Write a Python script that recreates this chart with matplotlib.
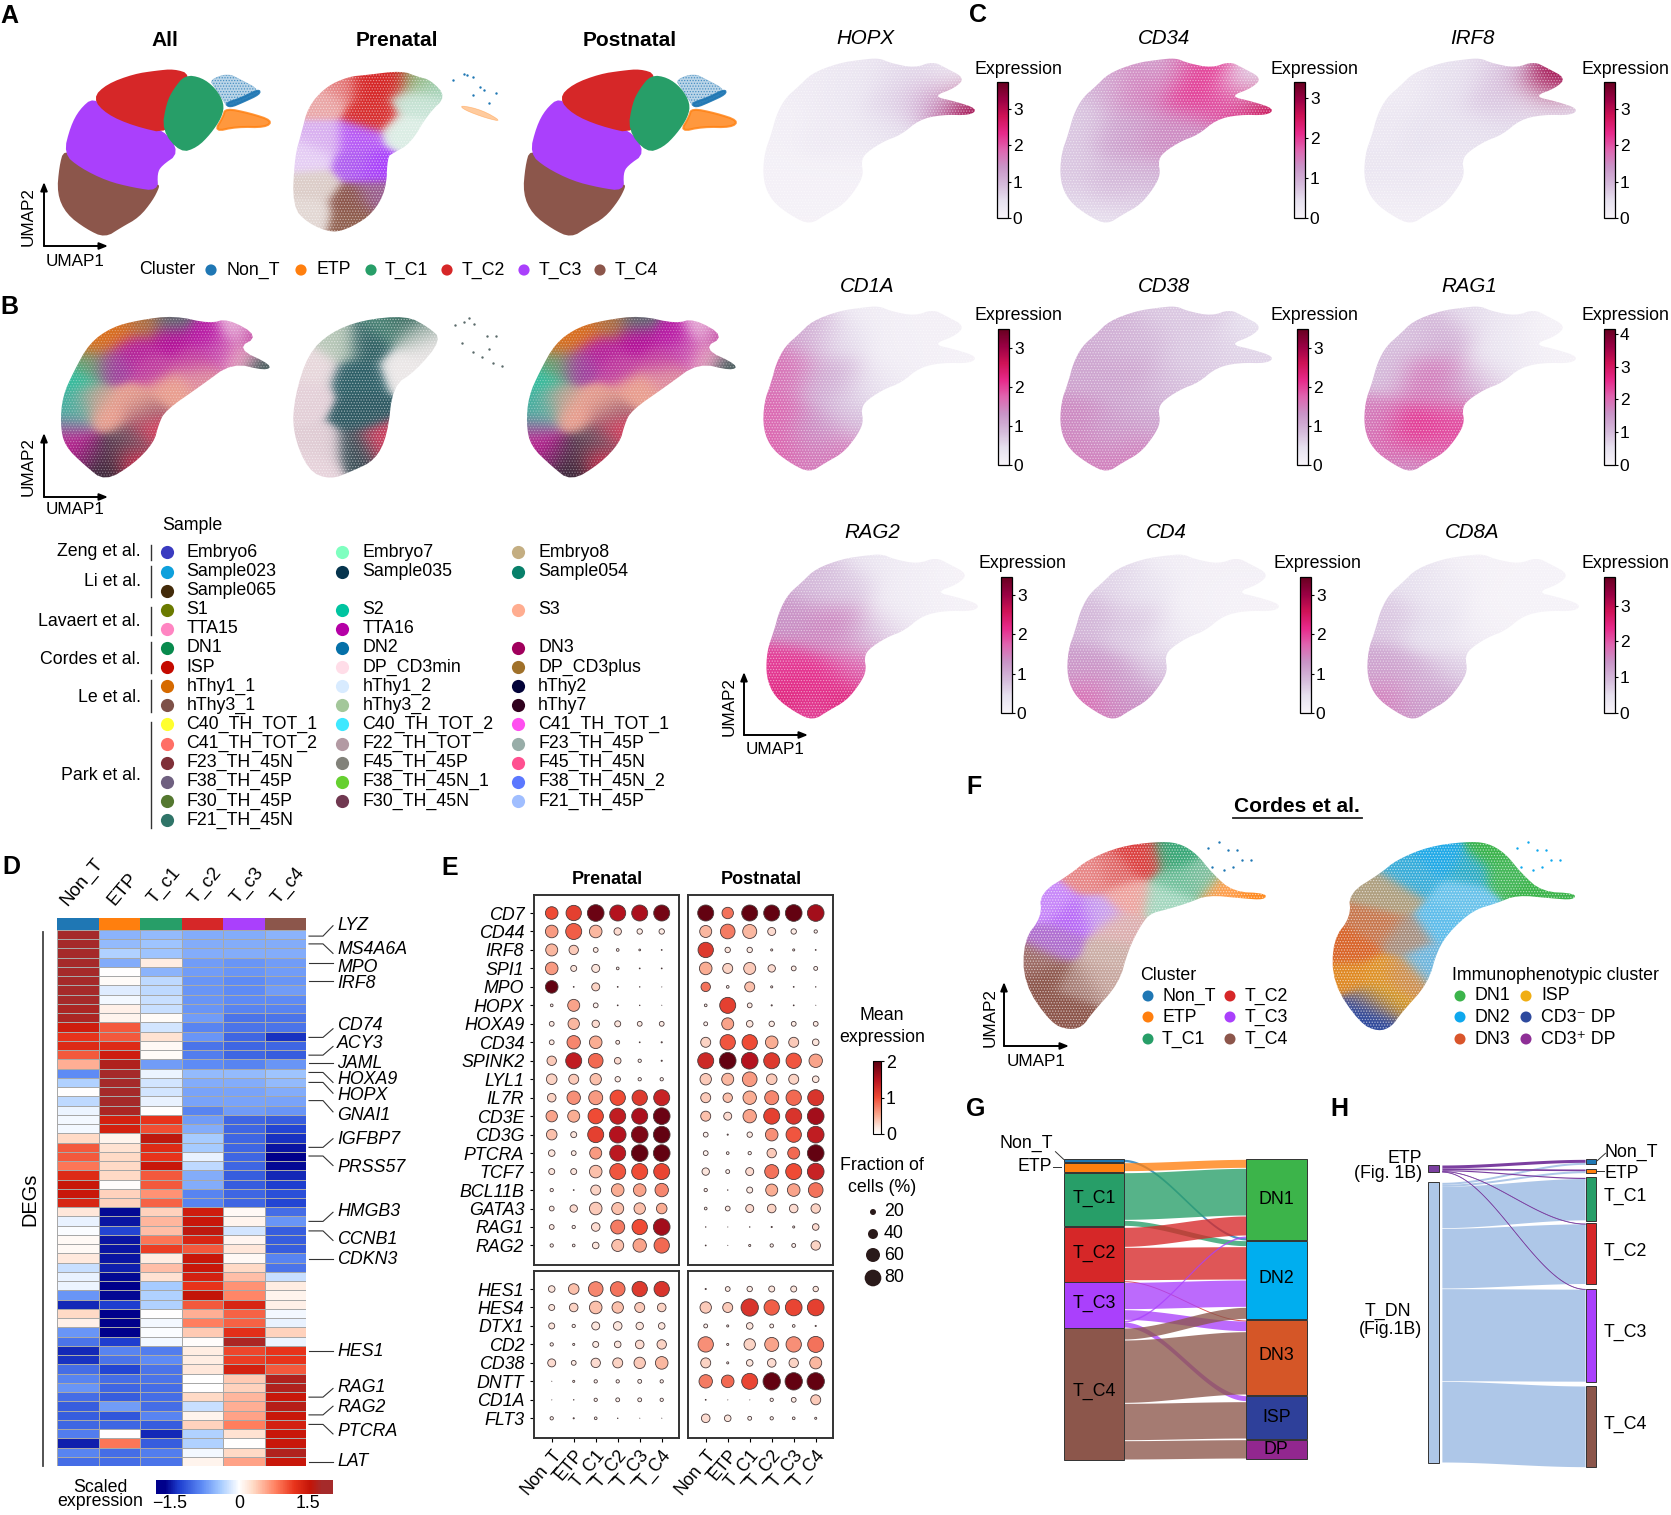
import numpy as np
from matplotlib import pyplot as plt
from matplotlib import cm
from matplotlib.colors import LinearSegmentedColormap, Normalize, to_rgb
from matplotlib.patches import Polygon

plt.rcParams['font.family'] = ['Liberation Sans', 'DejaVu Sans']
plt.rcParams['hatch.linewidth'] = .6

W, H = 1671, 1515

# clusters
clusters = ['Non_T', 'ETP', 'T_C1', 'T_C2', 'T_C3', 'T_C4']
cluster_colors = ['#1F77B4', '#FF7F0E', '#279E68', '#D62728', '#AA40FC', '#8C564B']

# umap outlines
shape_all = [(390, 210), (415, 225), (470, 240), (510, 220), (540, 240), (582, 270), (560, 300), (510, 325), (560, 340),
             (610, 362), (595, 382), (530, 380), (480, 395), (440, 440), (400, 460), (360, 495), (350, 520), (355, 560),
             (340, 600), (310, 650), (270, 680), (235, 710), (195, 685), (150, 640), (130, 580), (132, 500), (148, 440),
             (160, 380), (180, 330), (210, 295), (240, 255), (300, 225), (350, 215)]
all_c4 = [(135, 500), (145, 450), (180, 490), (240, 530), (300, 550), (352, 555), (355, 560), (340, 600), (310, 650),
          (270, 680), (235, 710), (195, 685), (150, 640), (130, 580)]
all_c3 = [(210, 295), (240, 340), (300, 375), (365, 390), (400, 458), (360, 495), (350, 520), (352, 570), (300, 560),
          (240, 540), (180, 500), (145, 460), (160, 380), (180, 330)]
all_c2 = [(210, 295), (240, 255), (300, 225), (350, 215), (390, 210), (425, 225), (400, 290), (380, 400), (300, 375),
          (240, 340)]
all_c1 = [(415, 228), (450, 235), (480, 265), (500, 310), (495, 350), (470, 400), (440, 440), (405, 455), (365, 390),
          (375, 310), (390, 270)]
all_nont = [(470, 240), (510, 220), (540, 240), (582, 270), (560, 298), (510, 325), (500, 300), (480, 260)]
all_nont_core = [(505, 310), (540, 295), (580, 268), (582, 282), (545, 305), (515, 322)]
all_etp = [(505, 325), (560, 340), (610, 362), (595, 382), (530, 380), (480, 395), (500, 350)]

pre_shape = [(690, 320), (730, 260), (780, 230), (820, 225), (900, 212), (935, 230), (965, 240), (1000, 290), (960, 340),
             (920, 430), (880, 460), (868, 470), (865, 570), (835, 640), (790, 680), (745, 700), (690, 670), (655, 620),
             (660, 470), (675, 400)]
pre_x = [720, 760, 820, 880, 830, 720, 690, 800, 840, 800, 700, 690, 790, 790, 840, 930, 950, 910, 930]
pre_y = [300, 260, 260, 240, 340, 420, 470, 420, 500, 490, 560, 640, 610, 660, 590, 300, 250, 400, 240]
pre_colors = ['#EBA9A9', '#E58080', '#D62728', '#D62728', '#D83030', '#D9B0F0', '#E6CFF5', '#B85CF6', '#AA40FC', '#B060F0',
              '#DCCDC8', '#E3D8D4', '#8C564B', '#90604F', '#9A6090', '#C8E4D6', '#A5D5BE', '#DCEEE5', '#8AA860']
pre_etp_thin = [(1030, 315), (1080, 330), (1125, 365), (1090, 355), (1040, 330)]
pre_nont_x = [1045, 1060, 1015, 1085, 1110, 1095, 1060, 1040, 1075]
pre_nont_y = [225, 232, 240, 270, 280, 310, 285, 222, 262]

# panel b, sample colours as seen at places of the umap
sample_shape = [(390, 72), (470, 95), (510, 80), (580, 130), (530, 165), (610, 212), (595, 228), (520, 205), (450, 270),
                (370, 340), (355, 380), (345, 430), (300, 490), (235, 540), (190, 495), (145, 440), (135, 380), (140, 300),
                (165, 230), (200, 150), (250, 105), (310, 85)]
sample_x = [210, 260, 320, 380, 165, 150, 200, 300, 380, 460, 250, 340, 430, 490, 530, 570, 540, 590, 240, 300, 380, 440,
            200, 150, 165, 150, 185, 235, 210, 260, 300, 335, 320, 290]
sample_y = [150, 115, 95, 85, 260, 320, 210, 170, 140, 130, 210, 220, 200, 170, 110, 130, 190, 215, 350, 320, 280, 240,
            310, 380, 330, 420, 460, 500, 470, 460, 420, 400, 350, 480]
sample_rgb = ['#D9701E', '#D9701E', '#B07040', '#5F6A70', '#2FBFA0', '#30B0A0', '#6AA070', '#B5209B', '#B5109B', '#B81AA5',
              '#A040A0', '#C040A0', '#C03AA0', '#C84FB0', '#E8B0D8', '#C040A0', '#E8A0C0', '#4A6060', '#EBA090', '#E8A090',
              '#EAA090', '#E090A0', '#C0A090', '#7090A0', '#60B0A0', '#C02090', '#B02090', '#3A2A3A', '#503048', '#504050',
              '#6A5060', '#E04060', '#A06070', '#D03050']
sample_pre_shape = [(690, 180), (740, 120), (810, 85), (910, 72), (960, 105), (990, 140), (930, 230), (880, 270), (868, 410),
                    (840, 480), (790, 510), (740, 535), (690, 510), (655, 400), (660, 300)]
sample_pre_cx = [680, 700, 720, 700, 760, 820, 800, 810, 800, 900, 860, 850, 930, 950, 910]
sample_pre_cy = [300, 220, 450, 500, 150, 150, 250, 350, 450, 90, 100, 430, 130, 170, 220]
sample_pre_rgb = ['#E4D0D8', '#E8D8DC', '#E0CCD4', '#E8D4DC', '#B8C8B8', '#2F5F63', '#2F6068', '#2F5A63', '#3A5058',
                  '#3A6A60', '#50887A', '#D04060', '#A8B8B0', '#E8E4E4', '#ECE8E8']
sample_pre_x = [1050, 1040, 1062, 1090, 1110, 1095, 1060, 1080, 1105, 1125, 1020, 1035]
sample_pre_y = [80, 90, 95, 130, 130, 165, 175, 190, 205, 215, 100, 150]

# feature plots, mean expression read at these places of the umap
anchors_x = [590, 510, 550, 440, 440, 420, 370, 300, 230, 280, 165, 370, 340, 240, 140, 235, 165, 300]
anchors_y = [365, 350, 280, 240, 340, 430, 225, 300, 290, 430, 400, 460, 560, 600, 560, 700, 650, 660]
genes_c = ['HOPX', 'CD34', 'IRF8', 'CD1A', 'CD38', 'RAG1', 'RAG2', 'CD4', 'CD8A']
gene_max = [3.75, 3.4, 3.75, 3.5, 3.5, 4.15, 3.45, 3.45, 3.8]
gene_ticks = [[0, 1, 2, 3], [0, 1, 2, 3], [0, 1, 2, 3], [0, 1, 2, 3], [0, 1, 2, 3], [0, 1, 2, 3, 4], [0, 1, 2, 3], [0, 1, 2, 3], [0, 1, 2, 3]]
hopx = [3.2, 1.3, .3, .6, .6, .5, .3, .35, .2, .25, .12, .25, .1, .1, .1, .05, .08, .08]
cd34 = [2.6, 1.8, .5, 2.1, 2.0, 1.2, 1.0, 1.5, .9, 1.1, .7, 1.4, .9, .9, .7, .3, .5, .6]
irf8 = [.6, .5, 3.2, .9, .8, .5, .4, .5, .2, .45, .3, .4, .3, .35, .35, .1, .15, .2]
cd1a = [.05, .1, .1, .1, .15, .15, .2, .4, 1.1, 1.0, 1.6, .5, .8, 1.3, 1.7, 1.5, 1.8, 1.6]
cd38 = [.6, .6, .4, .7, .7, .7, .7, .9, 1.0, 1.1, 1.1, .9, 1.1, 1.2, 1.4, 1.5, 1.5, 1.5]
rag1 = [.05, .15, .05, .3, .4, .4, .6, 1.2, .9, 1.8, 1.0, 1.4, 2.3, 2.5, 1.8, 1.5, 1.9, 2.1]
rag2 = [.05, .1, .05, .15, .2, .2, .3, .7, .9, 1.4, 1.3, .9, 1.7, 2.1, 2.0, 1.9, 2.3, 2.3]
cd4 = [.05, .05, .1, .1, .1, .1, .15, .35, .6, .7, .9, .3, .7, 1.2, 1.2, 1.4, 1.7, 1.3]
cd8a = [.03, .03, .05, .05, .05, .05, .1, .25, .5, .5, .8, .2, .7, 1.1, 1.2, 1.3, 1.7, 1.3]
gene_values = [hopx, cd34, irf8, cd1a, cd38, rag1, rag2, cd4, cd8a]

# sample legend
sample_names = [['Embryo6', 'Embryo7', 'Embryo8'], ['Sample023', 'Sample035', 'Sample054'], ['Sample065', None, None],
                ['S1', 'S2', 'S3'], ['TTA15', 'TTA16', None], ['DN1', 'DN2', 'DN3'],
                ['ISP', 'DP_CD3min', 'DP_CD3plus'], ['hThy1_1', 'hThy1_2', 'hThy2'], ['hThy3_1', 'hThy3_2', 'hThy7'],
                ['C40_TH_TOT_1', 'C40_TH_TOT_2', 'C41_TH_TOT_1'], ['C41_TH_TOT_2', 'F22_TH_TOT', 'F23_TH_45P'],
                ['F23_TH_45N', 'F45_TH_45P', 'F45_TH_45N'], ['F38_TH_45P', 'F38_TH_45N_1', 'F38_TH_45N_2'],
                ['F30_TH_45P', 'F30_TH_45N', 'F21_TH_45P'], ['F21_TH_45N', None, None]]
sample_colors = [['#3A3BC0', '#7FFFC0', '#C4AE82'], ['#0FA0DC', '#06344D', '#08806A'], ['#432B0A', None, None],
                 ['#6B7A00', '#00C4A0', '#FFAD90'], ['#FF85C2', '#B500A6', None], ['#088A4D', '#0570A8', '#A0005C'],
                 ['#C40A00', '#FFDDE8', '#A0712A'], ['#D66A00', '#D8EBFF', '#020238'], ['#7E5148', '#A3C79A', '#30021E'],
                 ['#FFFF2E', '#3FE8FF', '#FF4FF0'], ['#FF6F66', '#B39AA3', '#98ADA8'], ['#7F3038', '#82827A', '#FF5090'],
                 ['#6F6080', '#66D030', '#5B78FF'], ['#547830', '#703850', '#A0BEFF'], ['#2F7468', None, None]]
studies = ['Zeng et al.', 'Li et al.', 'Lavaert et al.', 'Cordes et al.', 'Le et al.', 'Park et al.']

# heatmap D, 58 genes x 6 clusters
heat_cols = ['Non_T', 'ETP', 'T_c1', 'T_c2', 'T_c3', 'T_c4']
heat = np.array([
    [1.8, -.55, -.5, -.6, -.6, -.55], [1.8, -.5, -.45, -.6, -.6, -.6], [1.8, -.35, -.45, -.6, -.6, -.6],
    [1.8, -.6, .15, -.7, -.75, -.7], [1.8, 0, -.55, -.7, -.75, -.7], [1.8, .03, -.3, -.75, -.8, -.75],
    [1.8, -.15, -.3, -.75, -.8, -.7], [1.8, -.05, -.25, -.75, -.8, -.8], [1.75, .12, -.25, -.75, -.85, -.85],
    [1.75, .1, .03, -.7, -.95, -.95], [1.45, 1.0, -.2, -.85, -.95, -.95], [1.2, 1.0, .25, -.75, -1.05, -1.35],
    [1.3, 1.3, .05, -.95, -1.05, -1.05], [1.0, 1.45, .03, -.9, -1.05, -1.1], [.55, 1.7, -.7, -.8, -.85, -.75],
    [-.8, 1.8, -.08, -.5, -.5, -.45], [-.35, 1.8, -.2, -.6, -.6, -.5], [0, 1.8, -.2, -.65, -.65, -.6],
    [-.3, 1.8, -.1, -.65, -.65, -.65], [-.08, 1.75, 0, -.85, -.7, -.75], [-.05, 1.4, 1.2, -.7, -1.05, -1.1],
    [-.05, 1.4, 1.05, -.6, -1.05, -1.25], [.3, .1, 1.6, -.4, -1.05, -1.35], [1.0, .25, 1.3, -.4, -1.05, -1.5],
    [1.0, .3, 1.2, -.1, -1.05, -1.6], [.85, .3, 1.5, -.3, -1.05, -1.55], [1.3, .3, 1.0, -.6, -1.1, -1.4],
    [1.5, .02, 1.0, -.6, -1.1, -1.3], [1.5, .35, .7, -.85, -1.05, -1.2], [1.35, .35, .95, -.85, -1.05, -1.25],
    [.2, -1.55, .35, 1.45, .05, -1.0], [-.1, -1.5, .5, 1.5, .1, -.75], [-.03, -1.25, .45, 1.6, -.2, -1.1],
    [.05, -1.5, .85, 1.35, .08, -1.1], [.05, -1.5, 1.15, 1.0, .2, -1.1], [.18, -1.5, .15, 1.5, .05, -.85],
    [-.25, -1.45, .45, 1.5, .3, -.95], [-.1, -1.55, .25, 1.4, .45, -.25], [-.08, -1.6, -.4, 1.2, .7, .15],
    [-.75, -1.55, -.35, 1.55, .75, .1], [-1.4, -1.3, -.35, 1.0, 1.35, .12], [.3, -1.65, 0, .55, .95, -.05],
    [.12, -1.65, -.05, .8, .95, -.1], [-.75, -1.65, -.03, .4, 1.25, .35], [-.95, -1.3, -.05, .02, 1.75, -.08],
    [-1.4, -.85, -.9, .15, 1.1, 1.2], [-1.35, -.95, -.8, .15, 1.15, 1.2], [-1.0, -1.25, -.95, .2, 1.4, 1.0],
    [-.85, -1.0, -.95, 0, .4, 1.7], [-.75, -1.05, -1.0, 0, .35, 1.7], [-1.0, -1.1, -1.0, .3, .5, 1.5],
    [-1.1, -.7, -1.0, -.25, .55, 1.65], [-1.1, -1.15, -.85, .1, .6, 1.5], [-1.05, -1.05, -1.1, .35, .8, 1.4],
    [-.9, 0, -1.4, -.35, .25, 1.5], [-1.45, .85, -1.1, -.35, 0, 1.5], [-.85, -1.0, -.9, -.05, .3, 1.7],
    [-1.0, -1.0, -.95, .1, .6, 1.5]])
heat_genes = ['LYZ', 'MS4A6A', 'MPO', 'IRF8', 'CD74', 'ACY3', 'JAML', 'HOXA9', 'HOPX', 'GNAI1', 'IGFBP7', 'PRSS57',
              'HMGB3', 'CCNB1', 'CDKN3', 'HES1', 'RAG1', 'RAG2', 'PTCRA', 'LAT']

# dot plot E
dot_genes_top = ['CD7', 'CD44', 'IRF8', 'SPI1', 'MPO', 'HOPX', 'HOXA9', 'CD34', 'SPINK2', 'LYL1', 'IL7R', 'CD3E', 'CD3G',
                 'PTCRA', 'TCF7', 'BCL11B', 'GATA3', 'RAG1', 'RAG2']
dot_genes_low = ['HES1', 'HES4', 'DTX1', 'CD2', 'CD38', 'DNTT', 'CD1A', 'FLT3']
pre_frac = np.array([
    [53, 70, 80, 75, 75, 75], [53, 75, 53, 27, 18, 18], [50, 37, 16, 9, 6, 3], [53, 20, 30, 9, 3, 3], [53, 3, 30, 3, 2, 1],
    [9, 50, 16, 3, 2, 1], [16, 47, 27, 20, 16, 16], [16, 57, 53, 13, 3, 4], [37, 75, 65, 23, 11, 4], [43, 40, 47, 18, 11, 11],
    [33, 57, 60, 70, 70, 75], [47, 50, 70, 75, 75, 80], [43, 20, 75, 80, 80, 80], [23, 16, 50, 75, 80, 80], [20, 20, 53, 75, 75, 75],
    [11, 3, 40, 53, 53, 57], [16, 27, 53, 50, 47, 43], [16, 11, 33, 60, 70, 80], [11, 9, 23, 50, 57, 70],
    [23, 43, 65, 65, 70, 70], [20, 33, 53, 47, 40, 33], [20, 11, 30, 33, 27, 23], [11, 7, 20, 23, 33, 37], [30, 16, 37, 40, 47, 53],
    [1, 7, 11, 11, 13, 11], [1, 2, 11, 13, 13, 11], [11, 4, 9, 2, 1, 1]])
pre_mean = np.array([
    [1.0, 1.1, 1.9, 1.5, 1.55, 1.85], [.6, .9, .45, .25, .15, .15], [.45, .35, .15, .1, .1, .1], [.6, .2, .2, .1, .1, .1],
    [1.95, .1, .3, .1, .05, .05], [.1, .55, .1, .1, .05, .05], [.15, .45, .25, .2, .15, .15], [.15, .7, .5, .15, .1, .1],
    [.35, 1.4, .85, .25, .1, .1], [.3, .35, .4, .15, .1, .1], [.3, .65, .6, 1.0, 1.15, 1.35], [.55, .5, 1.0, 1.4, 1.55, 1.9],
    [.4, .2, 1.1, 1.5, 1.8, 1.95], [.2, .15, .6, 1.45, 1.95, 1.95], [.2, .2, .4, .95, 1.0, 1.05], [.1, .1, .3, .5, .55, .7],
    [.15, .25, .35, .4, .4, .5], [.15, .1, .25, .75, 1.0, 1.6], [.1, .1, .2, .4, .55, .85],
    [.2, .4, .7, .8, 1.15, 1.2], [.2, .3, .4, .4, .35, .3], [.2, .1, .2, .2, .2, .2], [.1, .1, .15, .2, .25, .3],
    [.25, .15, .25, .3, .35, .45], [.05, .1, .1, .1, .1, .1], [.05, .05, .1, .1, .1, .1], [.1, .1, .1, .05, .05, .02]])
post_frac = np.array([
    [75, 47, 75, 75, 80, 80], [50, 65, 60, 30, 18, 11], [70, 18, 18, 7, 7, 3], [53, 40, 50, 27, 16, 13], [37, 9, 40, 7, 3, 2],
    [9, 75, 16, 4, 3, 1], [13, 50, 23, 18, 16, 16], [40, 70, 70, 53, 40, 23], [75, 80, 80, 75, 70, 57], [47, 50, 65, 43, 40, 23],
    [40, 37, 57, 60, 70, 75], [40, 30, 57, 75, 75, 80], [16, 4, 18, 53, 70, 80], [16, 9, 11, 37, 50, 80], [27, 13, 30, 60, 75, 80],
    [11, 2, 20, 50, 53, 65], [9, 16, 30, 33, 33, 37], [2, 1, 2, 4, 7, 23], [3, 1, 7, 11, 13, 37],
    [4, 16, 18, 20, 20, 18], [47, 40, 85, 70, 80, 80], [13, 7, 23, 13, 9, 4], [70, 7, 47, 60, 70, 75], [40, 7, 23, 33, 37, 50],
    [57, 53, 75, 85, 85, 85], [3, 1, 1, 11, 16, 40], [33, 23, 13, 11, 9, 7]])
post_mean = np.array([
    [1.95, .8, 1.95, 1.95, 1.95, 1.6], [.45, .75, .45, .25, .15, .1], [1.15, .2, .15, .1, .1, .1], [.5, .3, .35, .25, .15, .1],
    [.8, .1, .4, .1, .1, .05], [.1, 1.1, .15, .1, .1, .05], [.1, .55, .2, .15, .15, .15], [.3, .95, 1.0, .5, .35, .2],
    [1.3, 1.95, 1.5, 1.15, .95, .55], [.35, .45, .6, .35, .3, .2], [.35, .4, .5, .7, .85, 1.2], [.4, .25, .55, 1.1, 1.2, 1.6],
    [.1, .1, .15, .65, .95, 1.4], [.1, .1, .1, .35, .85, 1.95], [.2, .1, .25, .8, 1.0, 1.35], [.1, .1, .15, .5, .55, .8],
    [.1, .15, .25, .3, .25, .3], [.05, .02, .05, .1, .1, .25], [.05, .02, .1, .1, .1, .3],
    [.1, .15, .15, .2, .2, .2], [.35, .35, 1.2, .9, 1.05, 1.1], [.1, .1, .2, .1, .1, .1], [.65, .1, .3, .55, .65, .8],
    [.3, .1, .2, .25, .3, .45], [.75, .85, 1.05, 1.95, 1.95, 1.95], [.1, .02, .02, .1, .15, .35], [.25, .2, .1, .1, .1, .1]])
fraction_legend = [20, 40, 60, 80]

# panel F
f_left_shape = [(175, 370), (245, 310), (280, 270), (350, 230), (430, 215), (480, 218), (520, 250), (555, 310), (600, 365),
                (675, 370), (670, 390), (620, 385), (545, 375), (500, 400), (450, 420), (420, 430), (400, 460), (370, 540),
                (350, 640), (290, 730), (270, 770), (240, 780), (200, 760), (140, 640), (140, 510), (180, 440)]
f_left_x = [340, 400, 290, 370, 470, 480, 450, 530, 590, 650, 250, 200, 300, 350, 210, 190, 220, 170, 300, 330, 260]
f_left_y = [310, 270, 320, 380, 260, 330, 390, 320, 360, 378, 440, 400, 430, 480, 520, 620, 720, 580, 620, 550, 640]
f_left_rgb = ['#E06A6A', '#DC4040', '#E88888', '#EFA5A0', '#3AA878', '#6FBF9A', '#A5D8C0', '#7FC0A0', '#FFA050', '#FF8A20',
              '#B868F8', '#C98AFA', '#C9A0F0', '#DDB0B0', '#B070D0', '#8C564B', '#8C564B', '#A0706A', '#C8A8A0', '#CDB0A8',
              '#A88078']
f_right_shape = [(855, 370), (925, 310), (960, 270), (1030, 230), (1110, 215), (1160, 218), (1200, 250), (1235, 310), (1280, 365),
                 (1355, 370), (1350, 390), (1300, 385), (1225, 375), (1180, 400), (1130, 420), (1080, 480), (1050, 540),
                 (1030, 640), (970, 730), (950, 770), (920, 785), (880, 760), (820, 640), (820, 510), (860, 440)]
f_right_x = [1170, 1200, 1290, 1340, 1060, 1000, 1120, 1100, 1060, 1030, 950, 920, 980, 860, 860, 920, 970, 880, 900, 920]
f_right_y = [250, 300, 370, 378, 270, 320, 300, 380, 460, 580, 380, 470, 500, 540, 620, 620, 620, 740, 700, 680]
f_right_rgb = ['#3CB44B', '#46B85A', '#3CB44B', '#3CB44B', '#22AAE8', '#3AAEDA', '#30ACC8', '#6CC4EC', '#60BEEC', '#70B8E0',
               '#B0A080', '#C8784F', '#A89080', '#D9652B', '#E08A25', '#E0952A', '#D09050', '#2E4A9E', '#5A5A90', '#E0A020']
f_nont_x = [545, 570, 590, 610, 620, 640, 600, 580, 555]
f_nont_y = [235, 215, 240, 240, 270, 270, 290, 300, 290]
f_dn_x = [1225, 1250, 1270, 1290, 1300, 1320, 1280, 1260, 1235]
immuno_names = ['DN1', 'DN2', 'DN3', 'ISP', 'CD3\u207b DP', 'CD3\u207a DP']
immuno_colors = ['#3CB44B', '#0FA8EE', '#D9552B', '#F0AE14', '#2E4A9E', '#8E2F96']

# sankey G and H, sizes in cells
g_left = ['Non_T', 'ETP', 'T_C1', 'T_C2', 'T_C3', 'T_C4']
g_right = ['DN1', 'DN2', 'DN3', 'ISP', 'DP']
g_right_colors = ['#3CB44A', '#00AEEF', '#D55627', '#2E409A', '#92278F']
g_flows = [('Non_T', 'DN1', 7), ('ETP', 'DN1', 27), ('T_C1', 'DN1', 143), ('T_C1', 'DN2', 18), ('T_C2', 'DN1', 60),
           ('T_C2', 'DN2', 100), ('T_C2', 'DN3', 3), ('T_C3', 'DN2', 82), ('T_C3', 'DN3', 32), ('T_C3', 'DN1', 5),
           ('T_C3', 'ISP', 18), ('T_C4', 'DN2', 36), ('T_C4', 'DN3', 190), ('T_C4', 'ISP', 112), ('T_C4', 'DP', 58)]
g_arrive = ['ETP', 'T_C1', 'T_C2', 'T_C3', 'T_C4', 'Non_T']
h_left = ['ETP', 'T_DN']
h_flows = [('ETP', 'Non_T', 9), ('ETP', 'ETP', 5), ('ETP', 'T_C1', 3.5), ('ETP', 'T_C2', 1.5), ('ETP', 'T_C3', 1.5),
           ('T_DN', 'Non_T', 6), ('T_DN', 'ETP', 6), ('T_DN', 'T_C1', 126), ('T_DN', 'T_C2', 181), ('T_DN', 'T_C3', 278),
           ('T_DN', 'T_C4', 244)]

fig = plt.figure(figsize=(W / 100, H / 100), dpi=100)


def axes_px(x, y, w, h):
    return fig.add_axes([x / W, 1 - (y + h) / H, w / W, h / H])


def umap_axes(dx, dy, kx=2.24, ky=3.0, xr=(100, 640), yr=(190, 720)):
    ax = axes_px(dx + xr[0] / kx, dy + yr[0] / ky, (xr[1] - xr[0]) / kx, (yr[1] - yr[0]) / ky)
    ax.set_xlim(xr)
    ax.set_ylim(yr[1], yr[0])
    ax.axis('off')
    return ax


def rounded(pts, n=2):
    # corner cutting so the hand read outlines do not look like polygons
    p = np.array(pts, dtype=float)
    for _ in range(n):
        q = np.roll(p, -1, axis=0)
        p = np.column_stack([.75 * p + .25 * q, .25 * p + .75 * q]).reshape(-1, 2)
    return p


def stipple(ax, pts, color='white', alpha=.4):
    ax.add_patch(Polygon(rounded(pts), closed=True, fc='none', ec=color, lw=0, hatch='......', alpha=alpha))


def region(ax, pts, color, alpha=1.0, lw=1.5):
    ax.add_patch(Polygon(rounded(pts), closed=True, fc=color, ec=color, lw=lw, alpha=alpha, joinstyle='round'))


def soft_map(ax, outline, xs, ys, colors, sigma, xr, yr):
    # colours seen at a few places, blended between them and cut to the outline
    gx, gy = np.meshgrid(np.linspace(xr[0], xr[1], 220), np.linspace(yr[0], yr[1], 220))
    d2 = (gx[..., None] - np.array(xs)) ** 2 + (gy[..., None] - np.array(ys)) ** 2
    w = np.exp(-d2 / (2 * sigma ** 2)) + 1e-9
    img = (w[..., None] * np.array(colors)).sum(axis=2) / w.sum(axis=2, keepdims=True)
    patch = Polygon(rounded(outline), closed=True, fc='none', ec='none')
    ax.add_patch(patch)
    im = ax.imshow(img, extent=(xr[0], xr[1], yr[1], yr[0]), origin='upper', aspect='auto', interpolation='bilinear')
    im.set_clip_path(patch)
    ax.set_xlim(xr)
    ax.set_ylim(yr[1], yr[0])


def hexes(names):
    return [to_rgb(c) for c in names]


def draw_clusters(ax):
    region(ax, all_c4, cluster_colors[5])
    region(ax, all_c3, cluster_colors[4])
    region(ax, all_c2, cluster_colors[3])
    region(ax, all_nont, cluster_colors[0], .3, .5)
    stipple(ax, all_nont, cluster_colors[0], .7)
    region(ax, all_nont_core, cluster_colors[0], .9)
    region(ax, all_etp, cluster_colors[1], .8)
    region(ax, all_c1, cluster_colors[2])


def draw_samples(ax):
    soft_map(ax, sample_shape, sample_x, sample_y, hexes(sample_rgb), 26, (100, 640), (50, 550))
    stipple(ax, sample_shape, 'white', .3)


def draw_gene(ax, values, vmax):
    rgb = cm.PuRd(Normalize(0, vmax)(np.array(values)))[:, :3]
    soft_map(ax, shape_all, anchors_x, anchors_y, rgb, 46, (100, 640), (190, 720))
    stipple(ax, shape_all, 'white', .45)


# panel A
ax = umap_axes(0, 0)
draw_clusters(ax)
ax = umap_axes(0, 0, xr=(640, 1140))
soft_map(ax, pre_shape, pre_x, pre_y, hexes(pre_colors), 24, (640, 1140), (190, 720))
stipple(ax, pre_shape, 'white', .45)
region(ax, pre_etp_thin, cluster_colors[1], .4, .5)
ax.scatter(pre_nont_x, pre_nont_y, s=3, color=cluster_colors[0], lw=0)
ax = umap_axes(466, 0)
draw_clusters(ax)

# panel B
ax = umap_axes(0, 290, ky=2.82, yr=(50, 550))
draw_samples(ax)
ax = umap_axes(0, 290, ky=2.82, xr=(640, 1140), yr=(50, 550))
soft_map(ax, sample_pre_shape, sample_pre_cx, sample_pre_cy, hexes(sample_pre_rgb), 26, (640, 1140), (50, 550))
stipple(ax, sample_pre_shape, 'white', .45)
ax.scatter(sample_pre_x, sample_pre_y, s=3, color='#5A6A6A', lw=0)
ax = umap_axes(466, 290, ky=2.82, yr=(50, 550))
draw_samples(ax)

# panel C
gene_dx = [705, 1002, 1306, 705, 1002, 1306, 708, 1009, 1309]
gene_dy = [-12, -12, -12, 236, 236, 236, 484, 484, 484]
cb_x = [997, 1294, 1604, 998, 1297, 1604, 1001, 1300, 1604]
cb_y = [82, 82, 82, 329, 329, 329, 577, 577, 577]
for i, name in enumerate(genes_c):
    ax = umap_axes(gene_dx[i], gene_dy[i])
    draw_gene(ax, gene_values[i], gene_max[i])
    cax = axes_px(cb_x[i], cb_y[i], 11, 136)
    cb = fig.colorbar(cm.ScalarMappable(Normalize(0, gene_max[i]), 'PuRd'), cax=cax, ticks=gene_ticks[i])
    cb.ax.tick_params(labelsize=12.5, length=2, width=.8, pad=1.5)
    cb.outline.set_linewidth(.9)

# panel D
ax = axes_px(57, 918, 249, 12)
ax.bar(range(6), 1, width=1, color=cluster_colors)
ax.set_xlim(-.5, 5.5)
ax.set_ylim(0, 1)
ax.axis('off')

stops = [-1.8, -1.6, -1.3, -.8, -.4, 0, .3, .8, 1.2, 1.55, 1.8, 2.04]
stop_colors = ['#00008B', '#00008B', '#1E3FD0', '#5F8CF5', '#A6CBFF', '#FFFFFF', '#FFDCC8', '#FF7F5F', '#E8341C',
               '#C41408', '#A52A2A', '#A52A2A']
heat_cmap = LinearSegmentedColormap.from_list(
    'heat', [((v + 1.8) / 3.84, c) for v, c in zip(stops, stop_colors)])
ax = axes_px(57, 930, 249, 536)
ax.pcolormesh(heat, cmap=heat_cmap, vmin=-1.8, vmax=2.04, edgecolors='#A8A8A8', linewidth=.4)
ax.invert_yaxis()
ax.axis('off')
cax = axes_px(156, 1480, 177, 14)
cb = fig.colorbar(cm.ScalarMappable(Normalize(-1.8, 2.04), heat_cmap), cax=cax, orientation='horizontal', ticks=[-1.5, 0, 1.5])
cb.ax.set_xticklabels(['\u22121.5', '0', '1.5'])
cb.ax.tick_params(labelsize=12.8, length=0, pad=1)
cb.outline.set_visible(False)

# panel E
dot_cmap = LinearSegmentedColormap.from_list(
    'dots', [(0, '#FFFFFF'), (.1, '#FCE5DC'), (.25, '#FAAD93'), (.5, '#EF4B35'), (.75, '#B5121E'), (1, '#5A0010')])


def dot_size(frac):
    # area in pt^2 from the fraction scale of the legend
    d = np.interp(frac, [0, 20, 40, 60, 80, 85], [0, 18, 30, 42, 50, 52]) / 3 * .72
    return d ** 2


def dot_panel(x, y, h, frac, mean, genes, bottom, left):
    ax = axes_px(x, y, 145, h)
    cols, rows = np.meshgrid(range(6), range(len(genes)))
    ax.scatter(cols.ravel(), rows.ravel(), s=dot_size(frac.ravel()), c=mean.ravel(), cmap=dot_cmap, vmin=0, vmax=2,
               edgecolors='#4A3A3A', linewidths=.6)
    ax.set_xlim(-.805, 5.786)
    ax.set_ylim((h - 18) / 18.47, -.975)
    ax.set_yticks(range(len(genes)))
    ax.set_yticklabels(genes if left else [], style='italic', fontsize=12.8)
    ax.tick_params(axis='y', length=3 if left else 0, pad=4)
    if bottom:
        ax.set_xticks(range(6))
        ax.set_xticklabels(clusters, rotation=50, ha='right', rotation_mode='anchor', fontsize=12.8)
        ax.tick_params(axis='x', length=3, pad=3)
    else:
        ax.set_xticks([])
    for sp in ax.spines.values():
        sp.set_linewidth(1.4)
        sp.set_color('#333333')


dot_panel(534, 895, 370, pre_frac[:19], pre_mean[:19], dot_genes_top, False, True)
dot_panel(534, 1271, 167, pre_frac[19:], pre_mean[19:], dot_genes_low, True, True)
dot_panel(688, 895, 370, post_frac[:19], post_mean[:19], dot_genes_top, False, False)
dot_panel(688, 1271, 167, post_frac[19:], post_mean[19:], dot_genes_low, True, False)
cax = axes_px(873, 1061, 8, 73)
cb = fig.colorbar(cm.ScalarMappable(Normalize(0, 2), dot_cmap), cax=cax, ticks=[0, 1, 2])
cb.ax.tick_params(labelsize=12.8, length=2, width=.8, pad=1.5)
cb.outline.set_linewidth(.8)

# panel F
ax = umap_axes(960, 770, kx=2.2, xr=(130, 1370), yr=(200, 790))
soft_map(ax, f_left_shape, f_left_x, f_left_y, hexes(f_left_rgb), 24, (130, 760), (200, 790))
stipple(ax, f_left_shape, 'white', .55)
soft_map(ax, f_right_shape, f_right_x, f_right_y, hexes(f_right_rgb), 24, (810, 1370), (200, 790))
stipple(ax, f_right_shape, 'white', .55)
ax.set_xlim(130, 1370)
ax.set_ylim(790, 200)
ax.scatter(f_nont_x, f_nont_y, s=3, color=cluster_colors[0], lw=0)
ax.scatter(f_dn_x, f_nont_y, s=3, color=immuno_colors[1], lw=0)

# panels G and H share one axes
ax = axes_px(960, 1090, 711, 400)
ax.set_xlim(0, 1564)
ax.set_ylim(1200, 0)
ax.axis('off')


def sankey(ax, flows, tops_l, tops_r, x_l, w_l, x_r, w_r, colors_l, colors_r, ribbon_colors, alpha, arrive=None, pad=3,
           gap=0, front=None):
    next_l = dict(tops_l)
    next_r = dict(tops_r)
    order = flows
    if arrive:
        order = sorted(flows, key=lambda f: arrive.index(f[0]))
    start_r = {}
    for f in order:
        start_r[f] = next_r[f[1]]
        next_r[f[1]] += f[2]
    x = np.linspace(x_l + w_l + gap, x_r - gap / 3, 80)
    t = np.linspace(0, 1, 80)
    s = t * t * (3 - 2 * t)
    for f in flows:
        y0 = next_l[f[0]]
        next_l[f[0]] += f[2]
        y1 = start_r[f]
        v = f[2] - pad if f[2] > 15 else f[2]
        top = y0 + (y1 - y0) * s
        ax.fill_between(x, top, top + v, color=ribbon_colors[f[0]], alpha=alpha, lw=.3 if f[2] < 3 else 0,
                        zorder=3 if f[0] == front else 2)
    for name, top in tops_l.items():
        ax.bar(x_l, next_l[name] - top, bottom=top, width=w_l, align='edge', color=colors_l[name], edgecolor='#333333', lw=.7, zorder=4)
    for name, top in tops_r.items():
        ax.bar(x_r, next_r[name] - top, bottom=top, width=w_r, align='edge', color=colors_r[name], edgecolor='#333333', lw=.7, zorder=4)


cluster_map = dict(zip(clusters, cluster_colors))
sankey(ax, g_flows, dict(zip(g_left, [208, 218, 248, 412, 577, 714])), dict(zip(g_right, [208, 452, 690, 917, 1049])),
       228, 132, 630, 133, cluster_map, dict(zip(g_right, g_right_colors)), cluster_map, .78, g_arrive)
h_node = {'ETP': '#7B3FA0', 'T_DN': '#AEC7E8'}
sankey(ax, h_flows, dict(zip(h_left, [225, 277])), dict(zip(clusters, [208, 237, 262, 400, 596, 888])),
       1030, 24, 1377, 23, h_node, cluster_map, h_node, 1.0, None, pad=2, gap=6, front='ETP')

# text and guides over everything, in figure pixels
ov = fig.add_axes([0, 0, 1, 1], facecolor='none')
ov.set_xlim(0, W)
ov.set_ylim(H, 0)
ov.axis('off')


def T(x, y, s, fs=12.8, ha='center', va='center', **kw):
    ov.text(x, y, s, fontsize=fs, ha=ha, va=va, **kw)


def arrows(x, y, up, right, lx, ly2, rx, ry):
    for end in [(x, up), (right, y)]:
        ov.annotate('', xy=end, xytext=(x, y), arrowprops=dict(arrowstyle='-|>,head_width=.2,head_length=.5', lw=1.4,
                                                               color='black', shrinkA=0, shrinkB=0))
    T(lx, ly2, 'UMAP2', 12.3, rotation=90)
    T(rx, ry, 'UMAP1', 12.3)


letters = ['A', 'B', 'C', 'D', 'E', 'F', 'G', 'H']
letter_x = [9, 9, 978, 11, 450, 974, 976, 1339]
letter_y = [16, 307, 15, 867, 868, 787, 1109, 1109]
for l, x, y in zip(letters, letter_x, letter_y):
    T(x, y, l, 18, fontweight='bold')

for s, x in zip(['All', 'Prenatal', 'Postnatal'], [165, 397, 630]):
    T(x, 41, s, 15, fontweight='bold')
arrows(44, 246, 182, 108, 28, 217, 75, 261)
arrows(44, 497, 433, 108, 28, 467, 75, 510)
arrows(744, 735, 672, 808, 729, 707, 775, 750)
arrows(1004, 1046, 982, 1069, 990, 1018, 1036, 1061)

# cluster legend
T(139, 270, 'Cluster', ha='left')
ov.scatter([211, 301, 371, 447, 524, 600], [270] * 6, s=65, color=cluster_colors, lw=0)
for s, x in zip(clusters, [226, 316, 385, 462, 539, 615]):
    T(x, 270, s, ha='left')

# sample legend
T(192, 526, 'Sample')
row_y = 552.4 + 19.12 * np.arange(15)
for r, names in enumerate(sample_names):
    for c, name in enumerate(names):
        if name is None:
            continue
        ov.scatter([[166.5, 342.4, 518][c]], [row_y[r]], s=90, color=sample_colors[r][c], lw=0)
        T([186.6, 362.5, 538][c], row_y[r], name, ha='left')
for s, y in zip(studies, [552, 582, 622, 659, 697, 775]):
    T(140.6, y, s, ha='right')
for y0, y1 in [(545, 560), (566, 597), (607, 635), (642, 673), (680, 712), (722, 828)]:
    ov.plot([151, 151], [y0, y1], color='#333333', lw=1)

# feature titles
title_x = [865, 1164, 1472, 867, 1164, 1469, 872, 1166, 1472]
title_y = [38, 38, 38, 286, 286, 286, 533, 533, 533]
for s, x, y in zip(genes_c, title_x, title_y):
    T(x, y, s, 14.8, style='italic')
expr_x = [1018, 1314, 1625, 1018, 1314, 1625, 1022, 1317, 1625]
expr_y = [69, 69, 69, 316, 316, 316, 564, 564, 564]
for x, y in zip(expr_x, expr_y):
    T(x, y, 'Expression', 12.8)

# heatmap text
for s, x, y in zip(heat_cols, [71, 118, 158, 199, 241, 282], [909, 909, 907, 907, 907, 907]):
    T(x, y, s, 13.5, ha='left', va='bottom', rotation=50, rotation_mode='anchor')
T(30, 1199, 'DEGs', 14.4, rotation=90)
ov.plot([43, 43], [932, 1466], color='#444444', lw=1.3)
T(100, 1487, 'Scaled')
T(100, 1502, 'expression')
link_from = [222, 240, 283, 325, 456, 497, 515, 537, 560, 602, 710, 730, 881, 903, 967, 1180, 1287, 1328, 1350, 1437]
link_to = [198, 262, 283, 325, 436, 477, 515, 560, 585, 628, 690, 752, 860, 925, 967, 1180, 1267, 1308, 1372, 1437]
name_y = [926, 949, 967, 984, 1026, 1044, 1063, 1080, 1096, 1116, 1140, 1167, 1211, 1239, 1259, 1351, 1388, 1408, 1432, 1462]
for s, y0, y1, ty in zip(heat_genes, link_from, link_to, name_y):
    ov.plot([309, 323, 333], [840 + y0 / 2.31, 840 + y0 / 2.31, 840 + y1 / 2.31], color='#333333', lw=.8)
    T(337, ty, s, style='italic', ha='left')

# dot plot text
T(607, 879, 'Prenatal', 13, fontweight='bold')
T(761, 879, 'Postnatal', 13, fontweight='bold')
T(882, 1016, 'Mean')
T(882, 1038, 'expression')
T(882, 1165, 'Fraction of')
T(882, 1187, 'cells (%)')
leg_y = [1212, 1234, 1255, 1278]
ov.scatter([873] * 4, leg_y, s=dot_size(np.array(fraction_legend)), color='#2A1A1A', lw=0)
for f, y in zip(fraction_legend, leg_y):
    T(884, y, str(f), ha='left')

# panel F text
T(1297, 807, 'Cordes et al.', 15, fontweight='bold')
ov.plot([1233, 1362], [818, 818], color='#222222', lw=1.3)
T(1140, 975, 'Cluster', ha='left')
T(1452, 975, 'Immunophenotypic cluster', ha='left')
f_y = [996, 1017, 1039]
ov.scatter([1148] * 3, f_y, s=63, color=cluster_colors[:3], lw=0)
ov.scatter([1230] * 3, f_y, s=63, color=cluster_colors[3:], lw=0)
ov.scatter([1460] * 3, f_y, s=63, color=immuno_colors[:3], lw=0)
ov.scatter([1526] * 3, f_y, s=63, color=immuno_colors[3:], lw=0)
for i in range(3):
    T(1162, f_y[i], clusters[i], ha='left')
    T(1245, f_y[i], clusters[i + 3], ha='left')
    T(1474.5, f_y[i], immuno_names[i], ha='left')
    T(1541, f_y[i], immuno_names[i + 3], ha='left')


# sankey text, in the crop scale of G and H
def S_xy(zx, zy):
    return 960 + zx / 2.2, 1090 + zy / 3


for s, zx, zy in zip(g_left[2:] + g_right, [295, 295, 295, 295, 696, 696, 696, 696, 696],
                     [325, 490, 640, 905, 327, 565, 797, 983, 1078]):
    x, y = S_xy(zx, zy)
    T(x, y, s)
T(*S_xy(145, 160), 'Non_T')
T(*S_xy(165, 230), 'ETP')
for z0, z1 in [((210, 185), (228, 208)), ((205, 230), (222, 230)), ((1402, 212), (1420, 190)), ((1402, 243), (1416, 243))]:
    a, b = S_xy(*z0), S_xy(*z1)
    ov.plot([a[0], b[0]], [a[1], b[1]], color='#333333', lw=.7)
T(*S_xy(1017, 205), 'ETP', ha='right')
T(*S_xy(1017, 252), '(Fig. 1B)', ha='right')
T(*S_xy(992, 663), 'T_DN', ha='right')
T(*S_xy(1017, 720), '(Fig.1B)', ha='right')
for s, zy in zip(['Non_T', 'ETP', 'T_C1', 'T_C2', 'T_C3', 'T_C4'], [187, 250, 320, 485, 728, 1003]):
    T(*S_xy(1417, zy), s, ha='left')

fig.savefig('out.png', dpi=100)
